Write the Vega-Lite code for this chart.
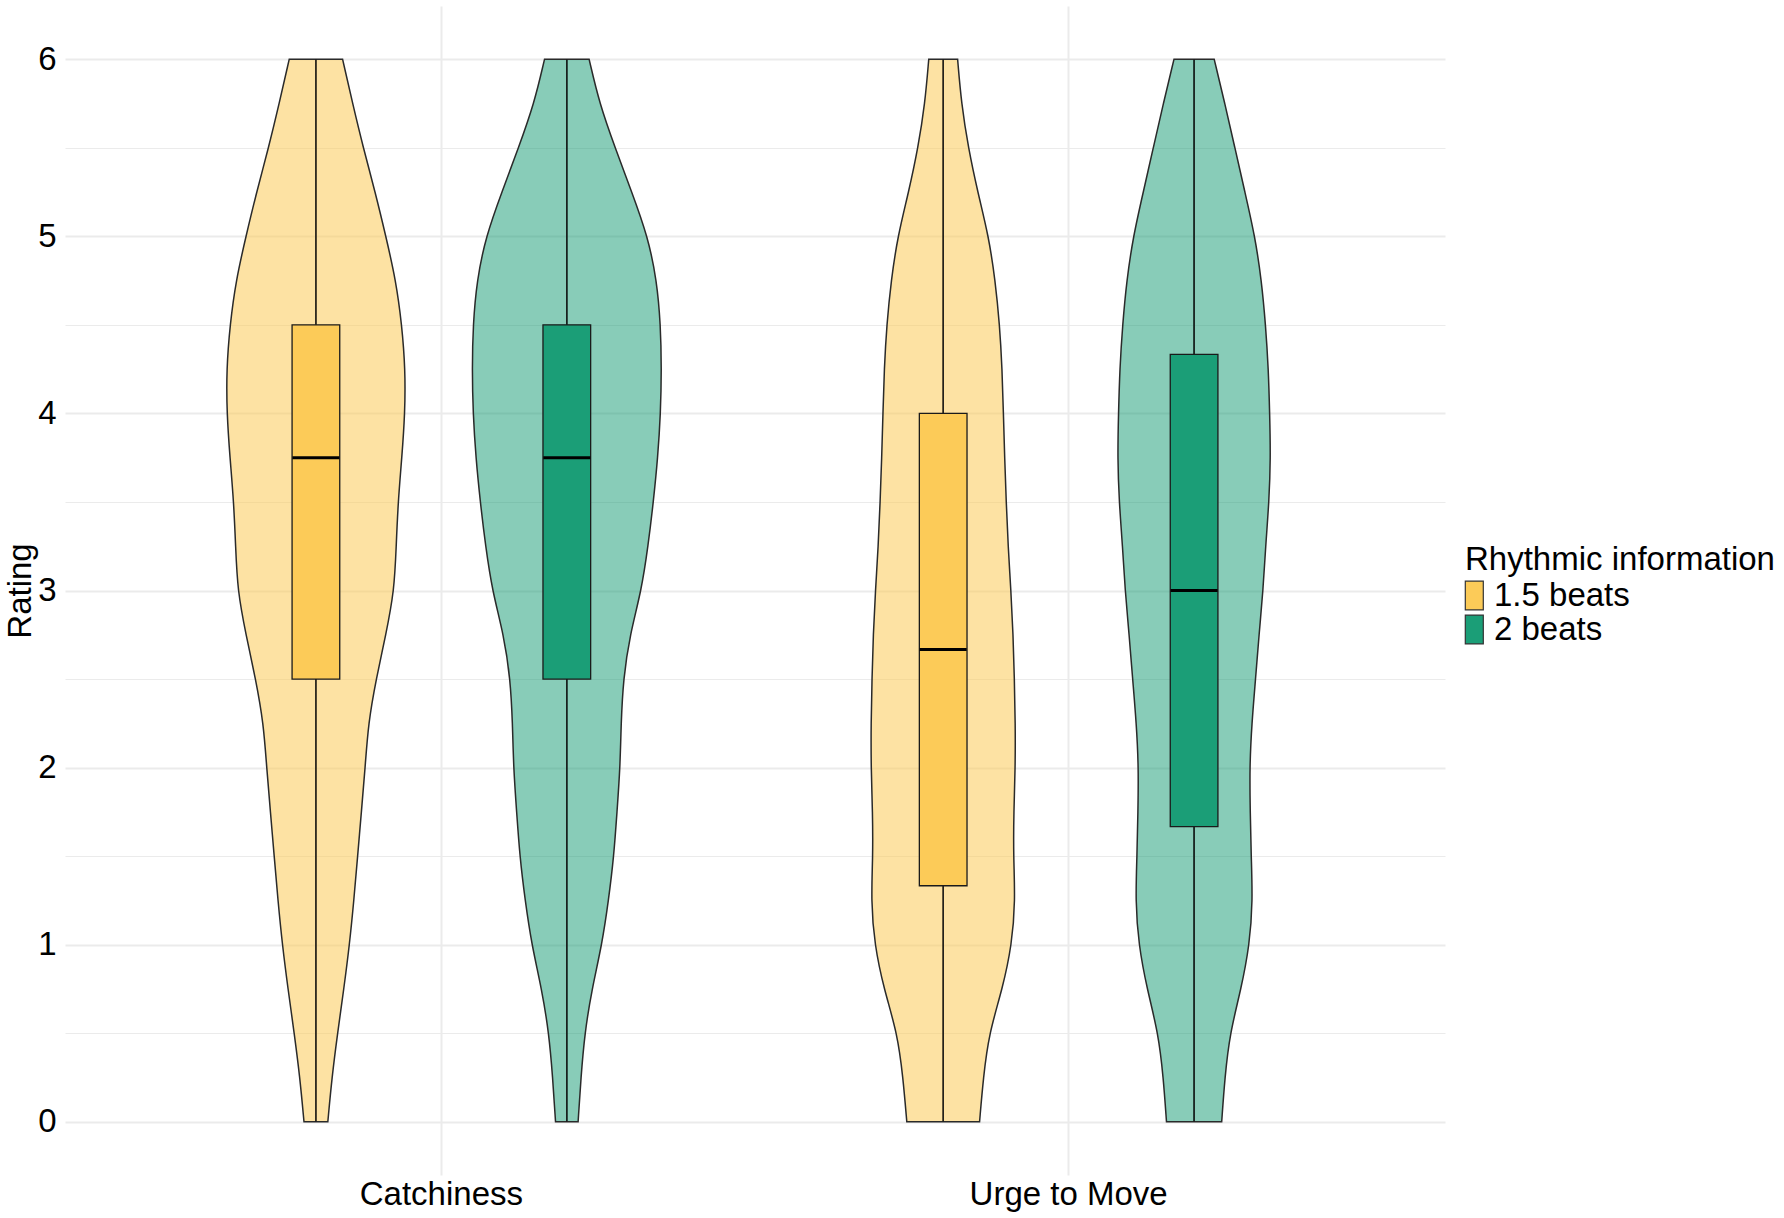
{
  "$schema": "https://vega.github.io/schema/vega-lite/v6.json",
  "width": 1380,
  "height": 1169,
  "autosize": {"type": "none"},
  "padding": {"left": 65, "top": 6, "right": 339, "bottom": 43},
  "background": "white",
  "config": {
    "font": "Liberation Sans",
    "view": {"stroke": null}
  },
  "datasets": {
    "violin": [
      {"metric":"Catchiness","group":"1.5 beats","rating":6,"width":0.085},
      {"metric":"Catchiness","group":"1.5 beats","rating":5.75,"width":0.117},
      {"metric":"Catchiness","group":"1.5 beats","rating":5.5,"width":0.151},
      {"metric":"Catchiness","group":"1.5 beats","rating":5.25,"width":0.189},
      {"metric":"Catchiness","group":"1.5 beats","rating":5,"width":0.223},
      {"metric":"Catchiness","group":"1.5 beats","rating":4.75,"width":0.255},
      {"metric":"Catchiness","group":"1.5 beats","rating":4.5,"width":0.274},
      {"metric":"Catchiness","group":"1.5 beats","rating":4.25,"width":0.285},
      {"metric":"Catchiness","group":"1.5 beats","rating":4,"width":0.284},
      {"metric":"Catchiness","group":"1.5 beats","rating":3.75,"width":0.274},
      {"metric":"Catchiness","group":"1.5 beats","rating":3.5,"width":0.262},
      {"metric":"Catchiness","group":"1.5 beats","rating":3.25,"width":0.256},
      {"metric":"Catchiness","group":"1.5 beats","rating":3,"width":0.250},
      {"metric":"Catchiness","group":"1.5 beats","rating":2.75,"width":0.223},
      {"metric":"Catchiness","group":"1.5 beats","rating":2.5,"width":0.192},
      {"metric":"Catchiness","group":"1.5 beats","rating":2.25,"width":0.167},
      {"metric":"Catchiness","group":"1.5 beats","rating":2,"width":0.157},
      {"metric":"Catchiness","group":"1.5 beats","rating":1.75,"width":0.145},
      {"metric":"Catchiness","group":"1.5 beats","rating":1.5,"width":0.133},
      {"metric":"Catchiness","group":"1.5 beats","rating":1.25,"width":0.121},
      {"metric":"Catchiness","group":"1.5 beats","rating":1,"width":0.107},
      {"metric":"Catchiness","group":"1.5 beats","rating":0.75,"width":0.089},
      {"metric":"Catchiness","group":"1.5 beats","rating":0.5,"width":0.069},
      {"metric":"Catchiness","group":"1.5 beats","rating":0.25,"width":0.051},
      {"metric":"Catchiness","group":"1.5 beats","rating":0,"width":0.038},
      {"metric":"Catchiness","group":"2 beats","rating":6,"width":0.071},
      {"metric":"Catchiness","group":"2 beats","rating":5.75,"width":0.104},
      {"metric":"Catchiness","group":"2 beats","rating":5.5,"width":0.154},
      {"metric":"Catchiness","group":"2 beats","rating":5.25,"width":0.207},
      {"metric":"Catchiness","group":"2 beats","rating":5,"width":0.258},
      {"metric":"Catchiness","group":"2 beats","rating":4.75,"width":0.287},
      {"metric":"Catchiness","group":"2 beats","rating":4.5,"width":0.299},
      {"metric":"Catchiness","group":"2 beats","rating":4.25,"width":0.302},
      {"metric":"Catchiness","group":"2 beats","rating":4,"width":0.299},
      {"metric":"Catchiness","group":"2 beats","rating":3.75,"width":0.290},
      {"metric":"Catchiness","group":"2 beats","rating":3.5,"width":0.276},
      {"metric":"Catchiness","group":"2 beats","rating":3.25,"width":0.259},
      {"metric":"Catchiness","group":"2 beats","rating":3,"width":0.238},
      {"metric":"Catchiness","group":"2 beats","rating":2.75,"width":0.201},
      {"metric":"Catchiness","group":"2 beats","rating":2.5,"width":0.180},
      {"metric":"Catchiness","group":"2 beats","rating":2.25,"width":0.173},
      {"metric":"Catchiness","group":"2 beats","rating":2,"width":0.170},
      {"metric":"Catchiness","group":"2 beats","rating":1.75,"width":0.160},
      {"metric":"Catchiness","group":"2 beats","rating":1.5,"width":0.150},
      {"metric":"Catchiness","group":"2 beats","rating":1.25,"width":0.133},
      {"metric":"Catchiness","group":"2 beats","rating":1,"width":0.112},
      {"metric":"Catchiness","group":"2 beats","rating":0.75,"width":0.080},
      {"metric":"Catchiness","group":"2 beats","rating":0.5,"width":0.057},
      {"metric":"Catchiness","group":"2 beats","rating":0.25,"width":0.045},
      {"metric":"Catchiness","group":"2 beats","rating":0,"width":0.036},
      {"metric":"Urge to Move","group":"1.5 beats","rating":6,"width":0.046},
      {"metric":"Urge to Move","group":"1.5 beats","rating":5.75,"width":0.058},
      {"metric":"Urge to Move","group":"1.5 beats","rating":5.5,"width":0.080},
      {"metric":"Urge to Move","group":"1.5 beats","rating":5.25,"width":0.110},
      {"metric":"Urge to Move","group":"1.5 beats","rating":5,"width":0.145},
      {"metric":"Urge to Move","group":"1.5 beats","rating":4.75,"width":0.166},
      {"metric":"Urge to Move","group":"1.5 beats","rating":4.5,"width":0.180},
      {"metric":"Urge to Move","group":"1.5 beats","rating":4.25,"width":0.188},
      {"metric":"Urge to Move","group":"1.5 beats","rating":4,"width":0.192},
      {"metric":"Urge to Move","group":"1.5 beats","rating":3.75,"width":0.196},
      {"metric":"Urge to Move","group":"1.5 beats","rating":3.5,"width":0.201},
      {"metric":"Urge to Move","group":"1.5 beats","rating":3.25,"width":0.207},
      {"metric":"Urge to Move","group":"1.5 beats","rating":3,"width":0.216},
      {"metric":"Urge to Move","group":"1.5 beats","rating":2.75,"width":0.223},
      {"metric":"Urge to Move","group":"1.5 beats","rating":2.5,"width":0.227},
      {"metric":"Urge to Move","group":"1.5 beats","rating":2.25,"width":0.230},
      {"metric":"Urge to Move","group":"1.5 beats","rating":2,"width":0.230},
      {"metric":"Urge to Move","group":"1.5 beats","rating":1.75,"width":0.225},
      {"metric":"Urge to Move","group":"1.5 beats","rating":1.5,"width":0.224},
      {"metric":"Urge to Move","group":"1.5 beats","rating":1.25,"width":0.230},
      {"metric":"Urge to Move","group":"1.5 beats","rating":1,"width":0.219},
      {"metric":"Urge to Move","group":"1.5 beats","rating":0.75,"width":0.189},
      {"metric":"Urge to Move","group":"1.5 beats","rating":0.5,"width":0.146},
      {"metric":"Urge to Move","group":"1.5 beats","rating":0.25,"width":0.128},
      {"metric":"Urge to Move","group":"1.5 beats","rating":0,"width":0.116},
      {"metric":"Urge to Move","group":"2 beats","rating":6,"width":0.064},
      {"metric":"Urge to Move","group":"2 beats","rating":5.75,"width":0.098},
      {"metric":"Urge to Move","group":"2 beats","rating":5.5,"width":0.130},
      {"metric":"Urge to Move","group":"2 beats","rating":5.25,"width":0.162},
      {"metric":"Urge to Move","group":"2 beats","rating":5,"width":0.194},
      {"metric":"Urge to Move","group":"2 beats","rating":4.75,"width":0.215},
      {"metric":"Urge to Move","group":"2 beats","rating":4.5,"width":0.228},
      {"metric":"Urge to Move","group":"2 beats","rating":4.25,"width":0.237},
      {"metric":"Urge to Move","group":"2 beats","rating":4,"width":0.241},
      {"metric":"Urge to Move","group":"2 beats","rating":3.75,"width":0.244},
      {"metric":"Urge to Move","group":"2 beats","rating":3.5,"width":0.239},
      {"metric":"Urge to Move","group":"2 beats","rating":3.25,"width":0.228},
      {"metric":"Urge to Move","group":"2 beats","rating":3,"width":0.220},
      {"metric":"Urge to Move","group":"2 beats","rating":2.75,"width":0.207},
      {"metric":"Urge to Move","group":"2 beats","rating":2.5,"width":0.196},
      {"metric":"Urge to Move","group":"2 beats","rating":2.25,"width":0.184},
      {"metric":"Urge to Move","group":"2 beats","rating":2,"width":0.177},
      {"metric":"Urge to Move","group":"2 beats","rating":1.75,"width":0.179},
      {"metric":"Urge to Move","group":"2 beats","rating":1.5,"width":0.182},
      {"metric":"Urge to Move","group":"2 beats","rating":1.25,"width":0.187},
      {"metric":"Urge to Move","group":"2 beats","rating":1,"width":0.177},
      {"metric":"Urge to Move","group":"2 beats","rating":0.75,"width":0.150},
      {"metric":"Urge to Move","group":"2 beats","rating":0.5,"width":0.114},
      {"metric":"Urge to Move","group":"2 beats","rating":0.25,"width":0.098},
      {"metric":"Urge to Move","group":"2 beats","rating":0,"width":0.088}
    ],
    "box": [
      {"metric":"Catchiness","group":"1.5 beats","lower":0,"q1":2.5,"median":3.75,"q3":4.5,"upper":6},
      {"metric":"Catchiness","group":"2 beats","lower":0,"q1":2.5,"median":3.75,"q3":4.5,"upper":6},
      {"metric":"Urge to Move","group":"1.5 beats","lower":0,"q1":1.333,"median":2.667,"q3":4.0,"upper":6},
      {"metric":"Urge to Move","group":"2 beats","lower":0,"q1":1.667,"median":3.0,"q3":4.333,"upper":6}
    ]
  },
  "layer": [
    {
      "data": {"name": "box"},
      "mark": {"type": "rule", "color": "#1a1a1a", "strokeWidth": 1.5},
      "encoding": {
        "x": {"field": "metric", "type": "nominal", "sort": ["Catchiness", "Urge to Move"],
          "scale": {"paddingInner": 0.2, "paddingOuter": 0.2},
          "axis": {"title": null, "labelFontSize": 33, "labelColor": "#000000", "labelPadding": 3, "labelAngle": 0,
            "domain": false, "ticks": false, "grid": true, "gridColor": "#EBEBEB", "gridWidth": 2, "labelLimit": 400}},
        "xOffset": {"field": "group", "type": "nominal", "sort": ["1.5 beats", "2 beats"], "scale": {"paddingInner": 0.81, "paddingOuter": 0.405}},
        "y": {"field": "lower", "type": "quantitative",
          "scale": {"domain": [-0.3, 6.3], "nice": false, "zero": false},
          "axis": {"title": "Rating", "titleFontSize": 33, "titleFontWeight": "normal", "titleColor": "#000000", "titlePadding": 0,
            "values": [0, 0.5, 1, 1.5, 2, 2.5, 3, 3.5, 4, 4.5, 5, 5.5, 6],
            "format": ".0f",
            "labelExpr": "datum.value % 1 === 0 ? datum.label : ''",
            "labelFontSize": 33, "labelColor": "#000000", "labelPadding": 9, "labelOverlap": false, "labelFlush": false,
            "domain": false, "ticks": false, "grid": true, "gridColor": "#EBEBEB",
            "gridWidth": {"condition": {"test": "datum.value % 1 !== 0", "value": 1.2}, "value": 2}}},
        "y2": {"field": "upper"}
      }
    },
    {
      "data": {"name": "violin"},
      "transform": [{"filter": {"and": [{"field": "metric", "equal": "Catchiness"}, {"field": "group", "equal": "1.5 beats"}]}}],
      "mark": {"type": "area", "orient": "horizontal", "interpolate": "basis", "fill": "#FCCB58", "fillOpacity": 0.55, "stroke": "#2a2a2a", "strokeWidth": 1.5},
      "encoding": {
        "y": {"field": "rating", "type": "quantitative", "scale": {"domain": [-0.3, 6.3], "nice": false, "zero": false}},
        "x": {"field": "width", "type": "quantitative", "stack": "center", "scale": {"domain": [-0.2575, 1.9425], "nice": false, "zero": false}, "axis": null}
      }
    },
    {
      "data": {"name": "violin"},
      "transform": [{"filter": {"and": [{"field": "metric", "equal": "Catchiness"}, {"field": "group", "equal": "2 beats"}]}}],
      "mark": {"type": "area", "orient": "horizontal", "interpolate": "basis", "fill": "#1B9E77", "fillOpacity": 0.52, "stroke": "#2a2a2a", "strokeWidth": 1.5},
      "encoding": {
        "y": {"field": "rating", "type": "quantitative", "scale": {"domain": [-0.3, 6.3], "nice": false, "zero": false}},
        "x": {"field": "width", "type": "quantitative", "stack": "center", "scale": {"domain": [-0.649, 1.551], "nice": false, "zero": false}, "axis": null}
      }
    },
    {
      "data": {"name": "violin"},
      "transform": [{"filter": {"and": [{"field": "metric", "equal": "Urge to Move"}, {"field": "group", "equal": "1.5 beats"}]}}],
      "mark": {"type": "area", "orient": "horizontal", "interpolate": "basis", "fill": "#FCCB58", "fillOpacity": 0.55, "stroke": "#2a2a2a", "strokeWidth": 1.5},
      "encoding": {
        "y": {"field": "rating", "type": "quantitative", "scale": {"domain": [-0.3, 6.3], "nice": false, "zero": false}},
        "x": {"field": "width", "type": "quantitative", "stack": "center", "scale": {"domain": [-1.285, 0.915], "nice": false, "zero": false}, "axis": null}
      }
    },
    {
      "data": {"name": "violin"},
      "transform": [{"filter": {"and": [{"field": "metric", "equal": "Urge to Move"}, {"field": "group", "equal": "2 beats"}]}}],
      "mark": {"type": "area", "orient": "horizontal", "interpolate": "basis", "fill": "#1B9E77", "fillOpacity": 0.52, "stroke": "#2a2a2a", "strokeWidth": 1.5},
      "encoding": {
        "y": {"field": "rating", "type": "quantitative", "scale": {"domain": [-0.3, 6.3], "nice": false, "zero": false}},
        "x": {"field": "width", "type": "quantitative", "stack": "center", "scale": {"domain": [-1.678, 0.522], "nice": false, "zero": false}, "axis": null}
      }
    },
    {
      "data": {"name": "box"},
      "mark": {"type": "rule", "color": "#1a1a1a", "strokeWidth": 1.5},
      "encoding": {
        "x": {"field": "metric", "type": "nominal", "sort": ["Catchiness", "Urge to Move"], "scale": {"paddingInner": 0.2, "paddingOuter": 0.2}, "axis": null},
        "xOffset": {"field": "group", "type": "nominal", "sort": ["1.5 beats", "2 beats"], "scale": {"paddingInner": 0.81, "paddingOuter": 0.405}},
        "y": {"field": "lower", "type": "quantitative", "scale": {"domain": [-0.3, 6.3], "nice": false, "zero": false}},
        "y2": {"field": "upper"}
      }
    },
    {
      "data": {"name": "box"},
      "mark": {"type": "bar", "stroke": "#1a1a1a", "strokeWidth": 1.3},
      "encoding": {
        "x": {"field": "metric", "type": "nominal", "sort": ["Catchiness", "Urge to Move"], "scale": {"paddingInner": 0.2, "paddingOuter": 0.2}, "axis": null},
        "xOffset": {"field": "group", "type": "nominal", "sort": ["1.5 beats", "2 beats"], "scale": {"paddingInner": 0.81, "paddingOuter": 0.405}},
        "y": {"field": "q1", "type": "quantitative", "scale": {"domain": [-0.3, 6.3], "nice": false, "zero": false}},
        "y2": {"field": "q3"},
        "color": {"field": "group", "type": "nominal",
          "scale": {"domain": ["1.5 beats", "2 beats"], "range": ["#FCCB58", "#1B9E77"]},
          "legend": {"title": "Rhythmic information", "orient": "none", "legendX": 1400, "legendY": 538,
            "titleFontSize": 33, "titleFontWeight": "normal", "titleColor": "#000000", "titlePadding": 2, "titleLimit": 500,
            "labelFontSize": 33, "labelColor": "#000000", "labelOffset": -4, "labelLimit": 400,
            "symbolType": "M-1.8,-1.6L0.2,-1.6L0.2,1.6L-1.8,1.6Z", "symbolSize": 324,
            "symbolStrokeColor": "#333333", "symbolStrokeWidth": 1.2, "rowPadding": -4, "padding": 0}}
      }
    },
    {
      "data": {"name": "box"},
      "mark": {"type": "tick", "orient": "horizontal", "size": 47, "thickness": 3, "color": "#000000", "opacity": 1},
      "encoding": {
        "x": {"field": "metric", "type": "nominal", "sort": ["Catchiness", "Urge to Move"], "scale": {"paddingInner": 0.2, "paddingOuter": 0.2}, "axis": null},
        "xOffset": {"field": "group", "type": "nominal", "sort": ["1.5 beats", "2 beats"], "scale": {"paddingInner": 0.81, "paddingOuter": 0.405}},
        "y": {"field": "median", "type": "quantitative", "scale": {"domain": [-0.3, 6.3], "nice": false, "zero": false}}
      }
    }
  ],
  "resolve": {"scale": {"x": "independent"}, "axis": {"x": "independent"}}
}
